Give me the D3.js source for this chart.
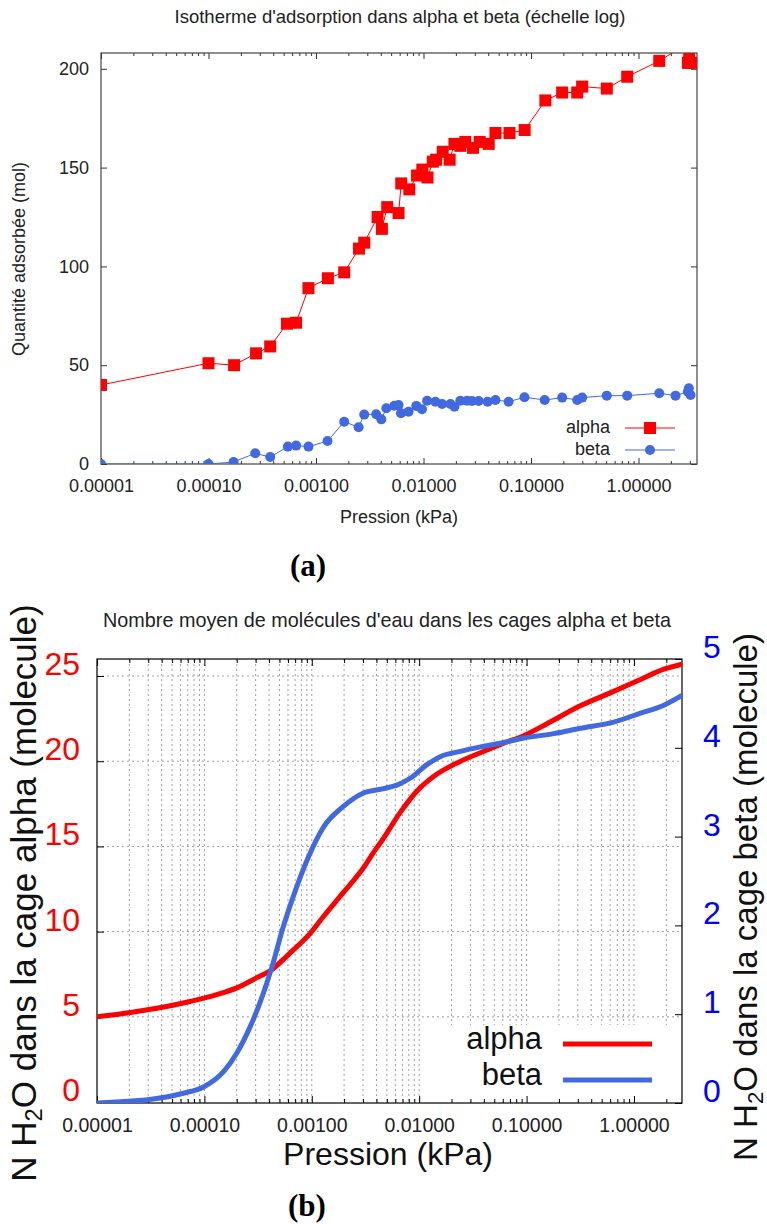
<!DOCTYPE html>
<html><head><meta charset="utf-8">
<script src="https://cdn.jsdelivr.net/npm/d3@7"></script>
<style>
body{margin:0;background:#fff}
text{font-family:"Liberation Sans",Arial,sans-serif}
text.serif{font-family:"Liberation Serif","DejaVu Serif",serif}
</style>
</head><body>
<svg id="c" width="767" height="1224"></svg>
<script>
// ---------- data: chart (a) ----------
const alphaPressure = [0.00001,0.0001,0.000173,0.000277,0.000375,0.000537,0.000653,0.000851,0.00129,0.00183,0.00251,0.00281,0.00374,0.0041,0.0046,0.00586,0.00621,0.00738,0.00871,0.00975,0.0109,0.0122,0.0131,0.0151,0.0175,0.0194,0.022,0.0245,0.0289,0.0333,0.0404,0.0467,0.0631,0.0873,0.136,0.195,0.269,0.299,0.507,0.785,1.56,2.9,2.96,2.88,3.16];
const alphaQuantity = [40,51,50,56,59.5,71,71.5,89,94,97,109,112,125,119,130,127,142,139,146,149,145,153,154,158,154,162,161,163,160,163,162,167.5,167.5,169,184,188,188,191,190,196,204,213,206.5,203,203];
const betaPressure = [0.00001,0.0001,0.000171,0.000272,0.000375,0.000547,0.000653,0.000851,0.00128,0.00183,0.00249,0.00281,0.00363,0.00405,0.00451,0.00535,0.00586,0.00617,0.00726,0.00857,0.00968,0.0108,0.0129,0.0149,0.0178,0.0194,0.022,0.0254,0.0282,0.0326,0.0395,0.0467,0.0619,0.0869,0.134,0.195,0.269,0.299,0.507,0.785,1.56,2.21,2.88,2.94,3.05];
const betaQuantity = [0,0,1,5.4,3.5,8.8,9.3,8.8,11.6,21.4,18.6,25,25.2,22.6,28.2,29.5,29.9,25.7,26.5,29.4,27.7,32,31.5,30.4,30.4,29,32,32,31.9,31.9,31.5,32.4,31.5,33.8,32.4,33.6,32.4,33.6,34.6,34.6,35.8,34.6,36.6,38.3,34.9];
const topYTicks = [0,50,100,150,200];

// ---------- data: chart (b) ----------
const curveAlphaPressure = [0.00001,0.0000176,0.000036,0.0000735,0.00013,0.0002,0.000308,0.000409,0.00063,0.000966,0.00129,0.00197,0.00303,0.0039,0.00434,0.00667,0.00955,0.0136,0.0225,0.0372,0.0612,0.094,0.155,0.316,0.647,1.15,1.9,2.8];
const curveAlphaN = [5.0,5.2,5.5,5.9,6.3,6.7,7.3,7.7,8.75,9.9,10.9,12.3,13.75,14.8,15.2,17,18.25,19.1,19.9,20.5,21.06,21.5,22.2,23.25,24.1,24.8,25.4,25.7];
const curveBetaPressure = [0.00001,0.000036,0.0000638,0.000098,0.00015,0.0002,0.000267,0.000355,0.000425,0.000544,0.000726,0.00093,0.00129,0.00197,0.00303,0.00466,0.0062,0.0083,0.0118,0.0157,0.0242,0.0372,0.0612,0.094,0.179,0.316,0.647,1.15,1.9,2.8];
const curveBetaN = [0,0.05,0.11,0.18,0.35,0.56,0.86,1.24,1.53,1.99,2.44,2.77,3.11,3.34,3.49,3.54,3.58,3.66,3.81,3.9,3.96,4.01,4.06,4.11,4.16,4.22,4.29,4.39,4.48,4.59];
const leftYTicks = [0,5,10,15,20,25];
const rightYTicks = [0,1,2,3,4,5];

const decadeTicks = [1e-5,1e-4,1e-3,1e-2,1e-1,1];
const seriesNames = ["alpha","beta"];

const RED = "#ff0000", BLUE = "#4169e1";
const svg = d3.select("#c");
const fmt = d3.format(".5f");

function minorTicks(domain){
  const out=[];
  decadeTicks.forEach(d=>{for(let m=2;m<=9;m++){const v=d*m; if(v>domain[0]&&v<domain[1]) out.push(v);}});
  return out;
}
function cleanAxis(g){ g.select(".domain").remove(); }

// ================= chart (a) =================
const T = {l:101, r:697, t:53, b:464};
const xT = d3.scaleLog().domain([1e-5,3.5]).range([T.l,T.r]);
const yT = d3.scaleLinear().domain([0,208]).range([T.b,T.t]);
const gA = svg.append("g");
gA.append("defs").append("clipPath").attr("id","clipA").append("rect")
  .attr("x",T.l).attr("y",T.t).attr("width",T.r-T.l).attr("height",T.b-T.t);

const axCol="#333";
function styleTicks(g,col){ g.selectAll(".tick line").attr("stroke",col||axCol); }
gA.append("g").attr("transform",`translate(0,${T.b})`)
  .call(d3.axisBottom(xT).tickValues(decadeTicks).tickSizeInner(-6).tickSizeOuter(0).tickPadding(15).tickFormat(fmt))
  .call(cleanAxis).call(g=>{styleTicks(g);g.selectAll("text").attr("font-size",18).attr("fill","#222");});
gA.append("g").attr("transform",`translate(0,${T.b})`)
  .call(d3.axisBottom(xT).tickValues(minorTicks(xT.domain())).tickSizeInner(-3).tickSizeOuter(0).tickFormat(""))
  .call(cleanAxis).call(g=>styleTicks(g));
gA.append("g").attr("transform",`translate(0,${T.t})`)
  .call(d3.axisTop(xT).tickValues(decadeTicks).tickSizeInner(-6).tickSizeOuter(0).tickFormat(""))
  .call(cleanAxis).call(g=>styleTicks(g));
gA.append("g").attr("transform",`translate(0,${T.t})`)
  .call(d3.axisTop(xT).tickValues(minorTicks(xT.domain())).tickSizeInner(-3).tickSizeOuter(0).tickFormat(""))
  .call(cleanAxis).call(g=>styleTicks(g));
gA.append("g").attr("transform",`translate(${T.l},0)`)
  .call(d3.axisLeft(yT).tickValues(topYTicks).tickSizeInner(-6).tickSizeOuter(0).tickPadding(12))
  .call(cleanAxis).call(g=>{styleTicks(g);g.selectAll("text").attr("font-size",18).attr("fill","#222");});
gA.append("g").attr("transform",`translate(${T.r},0)`)
  .call(d3.axisRight(yT).tickValues(topYTicks).tickSizeInner(-6).tickSizeOuter(0).tickFormat(""))
  .call(cleanAxis).call(g=>styleTicks(g));
gA.append("rect").attr("x",T.l).attr("y",T.t).attr("width",T.r-T.l).attr("height",T.b-T.t)
  .attr("fill","none").attr("stroke","#444").attr("stroke-width",1.2);

const plotA = gA.append("g").attr("clip-path","url(#clipA)");
const alphaPts = alphaPressure.map((p,i)=>[p,alphaQuantity[i]]);
const betaPts = betaPressure.map((p,i)=>[p,betaQuantity[i]]);
const lineA = d3.line().x(d=>xT(d[0])).y(d=>yT(d[1]));
plotA.append("path").datum(alphaPts).attr("d",lineA).attr("fill","none").attr("stroke",RED).attr("stroke-width",1);
plotA.append("path").datum(betaPts).attr("d",lineA).attr("fill","none").attr("stroke",BLUE).attr("stroke-width",1);
plotA.selectAll("rect.a").data(alphaPts).join("rect").attr("class","a")
  .attr("x",d=>xT(d[0])-6).attr("y",d=>yT(d[1])-6).attr("width",12).attr("height",12).attr("fill",RED);
plotA.selectAll("circle.b").data(betaPts).join("circle").attr("class","b")
  .attr("cx",d=>xT(d[0])).attr("cy",d=>yT(d[1])).attr("r",5).attr("fill",BLUE);

const legA = gA.append("g");
[[seriesNames[0],433,428,RED,"sq"],[seriesNames[1],455,450,BLUE,"ci"]].forEach(([n,by,ly,c,m])=>{
  legA.append("text").attr("x",610).attr("y",by).attr("text-anchor","end").attr("font-size",18).attr("fill","#222").text(n);
  legA.append("line").attr("x1",625).attr("x2",675).attr("y1",ly).attr("y2",ly).attr("stroke",c).attr("stroke-width",1);
  if(m==="sq") legA.append("rect").attr("x",644).attr("y",ly-6).attr("width",12).attr("height",12).attr("fill",c);
  else legA.append("circle").attr("cx",650).attr("cy",ly).attr("r",5).attr("fill",c);
});
gA.append("text").attr("x",400).attr("y",23).attr("text-anchor","middle").attr("font-size",18.5).attr("fill","#222")
  .text("Isotherme d'adsorption dans alpha et beta (échelle log)");
gA.append("text").attr("x",399).attr("y",523).attr("text-anchor","middle").attr("font-size",18).attr("fill","#222").text("Pression (kPa)");
gA.append("text").attr("transform","translate(25,259) rotate(-90)").attr("text-anchor","middle").attr("font-size",18).attr("fill","#222")
  .text("Quantité adsorbée (mol)");
gA.append("text").attr("class","serif").attr("x",308).attr("y",576).attr("text-anchor","middle").attr("font-size",31).attr("font-weight","bold")
  .text("(a)");

// ================= chart (b) =================
const B = {l:97, r:682, t:659, b:1103};
const xB = d3.scaleLog().domain([1e-5,2.8]).range([B.l,B.r]);
const yL = d3.scaleLinear().domain([0,26]).range([1102,B.t]);
const yR = d3.scaleLinear().domain([0,5]).range([B.b,B.t]);
const gB = svg.append("g");
gB.append("defs").append("clipPath").attr("id","clipB").append("rect")
  .attr("x",B.l).attr("y",B.t).attr("width",B.r-B.l).attr("height",B.b-B.t);

const allX = decadeTicks.concat(minorTicks(xB.domain())).filter(v=>v>xB.domain()[0]);
gB.append("g").selectAll("line").data(allX).join("line")
  .attr("x1",d=>xB(d)).attr("x2",d=>xB(d)).attr("y1",B.t).attr("y2",B.b)
  .attr("stroke","#a0a0a0").attr("stroke-width",1).attr("stroke-dasharray","2,3");
gB.append("g").selectAll("line").data(leftYTicks.filter(v=>v>0)).join("line")
  .attr("x1",B.l).attr("x2",B.r).attr("y1",d=>yL(d)).attr("y2",d=>yL(d))
  .attr("stroke","#a0a0a0").attr("stroke-width",1).attr("stroke-dasharray","2,3");
gB.append("rect").attr("x",440).attr("y",1025).attr("width",236).attr("height",76).attr("fill","#fff");

gB.append("g").attr("transform",`translate(0,${B.b})`)
  .call(d3.axisBottom(xB).tickValues(decadeTicks).tickSizeInner(-7).tickSizeOuter(0).tickPadding(15).tickFormat(fmt))
  .call(cleanAxis).call(g=>{styleTicks(g,"#000");g.selectAll("text").attr("font-size",19.5).attr("fill","#222");});
gB.append("g").attr("transform",`translate(0,${B.b})`)
  .call(d3.axisBottom(xB).tickValues(minorTicks(xB.domain())).tickSizeInner(-4).tickSizeOuter(0).tickFormat(""))
  .call(cleanAxis).call(g=>styleTicks(g,"#000"));
gB.append("g").attr("transform",`translate(0,${B.t})`)
  .call(d3.axisTop(xB).tickValues(decadeTicks).tickSizeInner(-7).tickSizeOuter(0).tickFormat(""))
  .call(cleanAxis).call(g=>styleTicks(g,"#000"));
gB.append("g").attr("transform",`translate(0,${B.t})`)
  .call(d3.axisTop(xB).tickValues(minorTicks(xB.domain())).tickSizeInner(-4).tickSizeOuter(0).tickFormat(""))
  .call(cleanAxis).call(g=>styleTicks(g,"#000"));
gB.append("g").attr("transform",`translate(${B.l},0)`)
  .call(d3.axisLeft(yL).tickValues(leftYTicks).tickSizeInner(-7).tickSizeOuter(0).tickPadding(17).tickFormat(d3.format("d")))
  .call(cleanAxis).call(g=>{styleTicks(g,"#000");g.selectAll("text").attr("font-size",32).attr("fill",RED).attr("dy","-0.05em");});
gB.append("g").attr("transform",`translate(${B.r},0)`)
  .call(d3.axisRight(yR).tickValues(rightYTicks).tickSizeInner(-7).tickSizeOuter(0).tickPadding(21).tickFormat(d3.format("d")))
  .call(cleanAxis).call(g=>{styleTicks(g,"#000");g.selectAll("text").attr("font-size",32).attr("fill","#0000ff").attr("dy","-0.05em");});
gB.append("rect").attr("x",B.l).attr("y",B.t).attr("width",B.r-B.l).attr("height",B.b-B.t)
  .attr("fill","none").attr("stroke","#000").attr("stroke-width",1.2);

const plotB = gB.append("g").attr("clip-path","url(#clipB)");
const cA = curveAlphaPressure.map((p,i)=>[p,curveAlphaN[i]]);
const cB = curveBetaPressure.map((p,i)=>[p,curveBetaN[i]]);
plotB.append("path").datum(cA).attr("d",d3.line().curve(d3.curveMonotoneX).x(d=>xB(d[0])).y(d=>yL(d[1])))
  .attr("fill","none").attr("stroke",RED).attr("stroke-width",5);
plotB.append("path").datum(cB).attr("d",d3.line().curve(d3.curveMonotoneX).x(d=>xB(d[0])).y(d=>yR(d[1])))
  .attr("fill","none").attr("stroke",BLUE).attr("stroke-width",5);

[[seriesNames[0],1049,1044,RED],[seriesNames[1],1085,1080,BLUE]].forEach(([n,by,ly,c])=>{
  gB.append("text").attr("x",542).attr("y",by).attr("text-anchor","end").attr("font-size",31).attr("fill","#111").text(n);
  gB.append("line").attr("x1",563).attr("x2",652).attr("y1",ly).attr("y2",ly).attr("stroke",c).attr("stroke-width",5);
});

gB.append("text").attr("x",387).attr("y",627).attr("text-anchor","middle").attr("font-size",19.8).attr("fill","#222")
  .text("Nombre moyen de molécules d'eau dans les cages alpha et beta");
gB.append("text").attr("x",388).attr("y",1165).attr("text-anchor","middle").attr("font-size",32).attr("fill","#111").text("Pression (kPa)");
function yLabel(x,y,cage,fs){
  const t = gB.append("text").attr("transform",`translate(${x},${y}) rotate(-90)`).attr("text-anchor","middle")
    .attr("font-size",fs).attr("fill","#111");
  t.append("tspan").text("N H");
  t.append("tspan").attr("font-size",fs*0.68).attr("dy","0.25em").text("2");
  t.append("tspan").attr("dy","-0.17em").text(`O dans la cage ${cage} (molecule)`);
}
yLabel(36,893,"alpha",35);
yLabel(757,897,"beta",33);
gB.append("text").attr("class","serif").attr("x",307).attr("y",1216).attr("text-anchor","middle").attr("font-size",31).attr("font-weight","bold")
  .text("(b)");
</script>
</body></html>
